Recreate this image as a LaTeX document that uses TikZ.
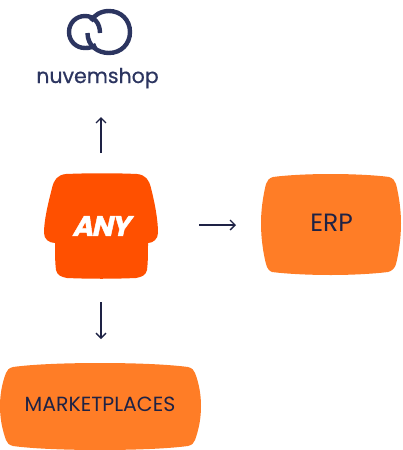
\documentclass[tikz,border=0pt]{standalone}
\usepackage{fontspec}
\setmainfont{Poppins}
\newfontfamily\anyfont[FakeSlant=0.22,FakeBold=1.5,LetterSpace=-5]{Poppins}
\newfontfamily\logofont[FakeBold=0.6]{Poppins}
\definecolor{navy}{HTML}{1E2245}
\definecolor{logoblue}{HTML}{2C3560}
\definecolor{boxorange}{HTML}{FF7D26}
\definecolor{anyorange}{HTML}{FF5000}
\usetikzlibrary{arrows.meta}
\tikzset{
  x=1pt,y=-1pt,
  conn/.style={draw=navy,line width=1.3pt,-{Straight Barb[length=5pt,width=10pt,line width=1.3pt]}},
  lbl/.style={text=navy,inner sep=0pt},
  ring/.style={draw=logoblue,line width=4.4pt}
}
\begin{document}
\begin{tikzpicture}
\useasboundingbox (0,0) rectangle (402,450);
% logo
\draw[ring] (87.5,33) .. controls (87.5,46) and (98,53) .. (109,53)
  .. controls (121,53) and (130,44) .. (130,32)
  .. controls (130,20) and (121,11) .. (109,11)
  .. controls (101,11) and (94,15) .. (91,21);
\draw[ring] (100,33) .. controls (100,23) and (94,16) .. (85,16)
  .. controls (76,16) and (69,23) .. (69,32)
  .. controls (69,41) and (76,48) .. (85,48)
  .. controls (90,48) and (93,47) .. (96,45);
\node[anchor=base,text=logoblue,inner sep=0pt,font=\logofont\fontsize{20.5}{20.5}\selectfont] (logo) at (97.5,83) {nuvemshop};
% ANY
\path[fill=anyorange] (66,174) .. controls (90,173) and (115,173) .. (137,174)
  .. controls (146,175) and (149,180) .. (151,188)
  .. controls (155,204) and (158,220) .. (158,233)
  .. controls (158,239) and (153,243) .. (148,243)
  .. controls (148,253) and (148,262) .. (147,270)
  .. controls (146,275) and (142,277) .. (136,278)
  .. controls (113,279) and (90,279) .. (67,278)
  .. controls (61,277) and (57,275) .. (56,270)
  .. controls (55,262) and (55,253) .. (55,243)
  .. controls (49,243) and (44,239) .. (44,233)
  .. controls (44,220) and (48,204) .. (52,188)
  .. controls (54,180) and (57,175) .. (66,174) -- cycle;
\node[text=white,inner sep=0pt,font=\anyfont\bfseries\fontsize{28}{28}\selectfont] (any) at (101,226) {ANY};
% ERP
\path[fill=boxorange] (331,174) .. controls (350,174) and (375,175) .. (389,177)
  .. controls (393,178) and (395,181) .. (396,184)
  .. controls (399,196) and (401,210) .. (401,223)
  .. controls (401,238) and (399,252) .. (396,264)
  .. controls (395,268) and (392,271) .. (388,272)
  .. controls (372,274) and (350,275) .. (331,275)
  .. controls (310,275) and (288,274) .. (272,272)
  .. controls (269,271) and (267,268) .. (266,264)
  .. controls (263,252) and (261,238) .. (261,223)
  .. controls (261,210) and (263,196) .. (266,184)
  .. controls (267,181) and (269,178) .. (273,177)
  .. controls (288,175) and (310,174) .. (331,174) -- cycle;
\node[lbl,font=\fontsize{25}{25}\selectfont] (erp) at (331.5,223) {ERP};
% MARKETPLACES
\path[fill=boxorange] (100,363) .. controls (130,363) and (165,364) .. (188,367)
  .. controls (192,368) and (194,370) .. (195,373)
  .. controls (199,383) and (201,395) .. (201,406)
  .. controls (201,418) and (199,429) .. (195,440)
  .. controls (194,443) and (192,445) .. (188,446)
  .. controls (165,449) and (130,450) .. (100,450)
  .. controls (70,450) and (35,449) .. (13,446)
  .. controls (9,445) and (7,443) .. (6,440)
  .. controls (2,429) and (0,418) .. (0,406)
  .. controls (0,395) and (2,383) .. (6,373)
  .. controls (7,370) and (9,368) .. (13,367)
  .. controls (35,364) and (70,363) .. (100,363) -- cycle;
\node[lbl,font=\fontsize{20.5}{20.5}\selectfont] (mkt) at (100,404) {MARKETPLACES};
% connectors
\coordinate (upS) at (101,153);
\coordinate (upE) at (101,117);
\coordinate (rtS) at (199,225);
\coordinate (rtE) at (236,225);
\coordinate (dnS) at (101,302);
\coordinate (dnE) at (101,339);
\draw[conn] (upS) -- (upE);
\draw[conn] (rtS) -- (rtE);
\draw[conn] (dnS) -- (dnE);
\end{tikzpicture}
\end{document}
